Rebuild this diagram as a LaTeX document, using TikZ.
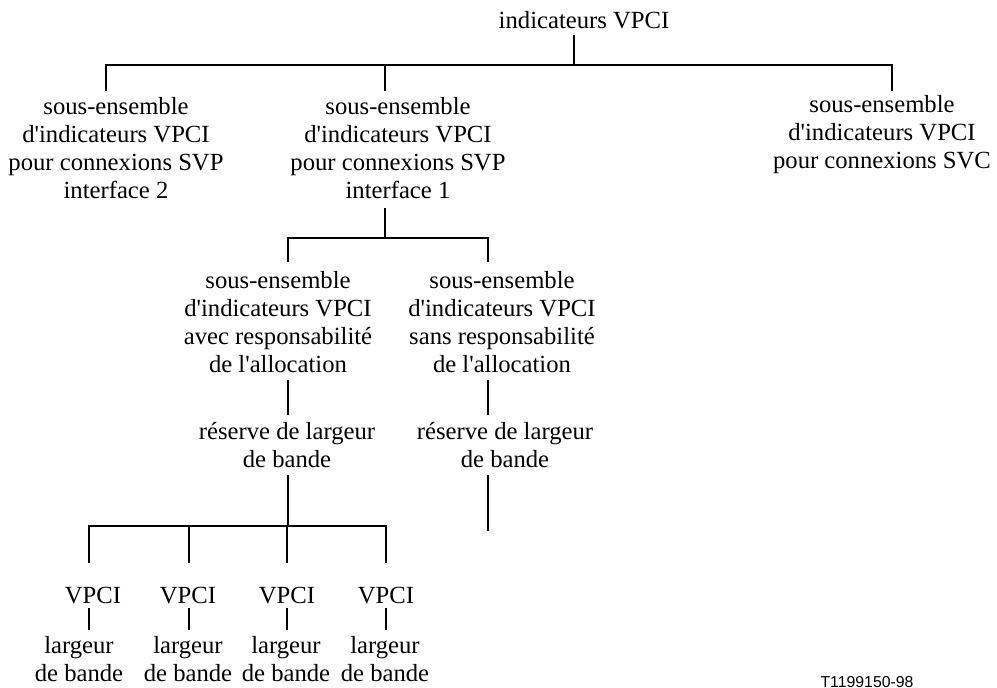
\documentclass[tikz,border=0pt]{standalone}
\usepackage{fontspec}
\setmainfont{Liberation Serif}
\newfontfamily\refsans{Liberation Sans}
\newcommand{\ap}{\textquotesingle}
\tikzset{
	txt/.style={align=center, inner sep=0pt, font=\fontsize{12}{13.6}\selectfont},
	branch/.style={line width=.8pt}
}
\begin{document}
\begin{tikzpicture}[x=0.01711cm, y=-0.01711cm]
		\useasboundingbox (0,0) rectangle (997,688);
		% text
		\node[txt] (root) at (584,20) {indicateurs VPCI};
		\node[txt] (svp2) at (116,148) {sous-ensemble\\d\ap indicateurs VPCI\\pour connexions SVP\\interface 2};
		\node[txt] (svp1) at (398,148) {sous-ensemble\\d\ap indicateurs VPCI\\pour connexions SVP\\interface 1};
		\node[txt] (svc) at (882,135) {sous-ensemble\\d\ap indicateurs VPCI\\pour connexions SVC};
		\node[txt] (avec) at (278,322) {sous-ensemble\\d\ap indicateurs VPCI\\avec responsabilité\\de l\ap allocation};
		\node[txt] (sans) at (502,322) {sous-ensemble\\d\ap indicateurs VPCI\\sans responsabilité\\de l\ap allocation};
		\node[txt] (resA) at (287,445) {réserve de largeur\\de bande};
		\node[txt] (resB) at (505,445) {réserve de largeur\\de bande};
		\node[txt] (vpci1) at (93,596) {VPCI};
		\node[txt] (vpci2) at (188,596) {VPCI};
		\node[txt] (vpci3) at (287,596) {VPCI};
		\node[txt] (vpci4) at (386,596) {VPCI};
		\node[txt] (bw1) at (79,659) {largeur\\de bande};
		\node[txt] (bw2) at (188,659) {largeur\\de bande};
		\node[txt] (bw3) at (286,659) {largeur\\de bande};
		\node[txt] (bw4) at (385,659) {largeur\\de bande};
		\node[inner sep=0pt, font=\refsans\fontsize{7.7}{9}\selectfont] (tag) at (867,682) {T1199150-98};
		% junctions
		\coordinate (rootS) at (574,35);
		\coordinate (rootJ) at (574,65);
		\coordinate (svp2N) at (106,91);
		\coordinate (svp1N) at (385,91);
		\coordinate (svcN) at (892,91);
		\coordinate (svp1S) at (385,208);
		\coordinate (svp1J) at (385,238);
		\coordinate (avecN) at (288,262);
		\coordinate (sansN) at (488,262);
		\coordinate (avecS) at (288,380);
		\coordinate (sansS) at (488,380);
		\coordinate (resAN) at (288,415);
		\coordinate (resBN) at (488,415);
		\coordinate (resAS) at (288,475);
		\coordinate (resBS) at (488,475);
		\coordinate (resAJ) at (288,526);
		\coordinate (resBE) at (488,531);
		\coordinate (vpci1N) at (89,563);
		\coordinate (vpci2N) at (189,563);
		\coordinate (vpci3N) at (287,563);
		\coordinate (vpci4N) at (386,563);
		% lines
		\draw[branch] (rootS) -- (rootJ);
		\draw[branch] (svp2N) -- (svp2N |- rootJ) -- (svcN |- rootJ) -- (svcN);
		\draw[branch] (svp1N) -- (svp1N |- rootJ);
		\draw[branch] (svp1S) -- (svp1J);
		\draw[branch] (avecN) -- (avecN |- svp1J) -- (sansN |- svp1J) -- (sansN);
		\draw[branch] (avecS) -- (resAN);
		\draw[branch] (sansS) -- (resBN);
		\draw[branch] (resAS) -- (resAJ);
		\draw[branch] (resBS) -- (resBE);
		\draw[branch] (vpci1N) -- (vpci1N |- resAJ) -- (vpci4N |- resAJ) -- (vpci4N);
		\draw[branch] (vpci2N) -- (vpci2N |- resAJ);
		\draw[branch] (vpci3N) -- (vpci3N |- resAJ);
		\draw[branch] (89,608) -- (89,630);
		\draw[branch] (189,608) -- (189,630);
		\draw[branch] (287,608) -- (287,630);
		\draw[branch] (386,608) -- (386,630);
	\end{tikzpicture}
\end{document}
